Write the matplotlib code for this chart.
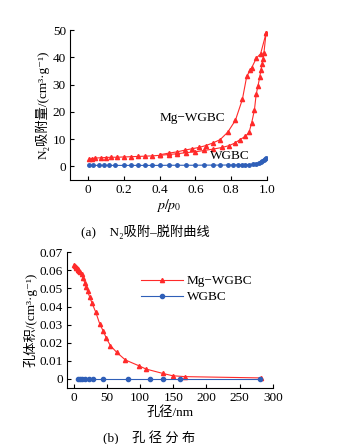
import matplotlib.pyplot as plt
import numpy as np

plt.rcParams['font.family'] = ['Liberation Serif', 'Noto Sans CJK SC', 'DejaVu Serif']
plt.rcParams['mathtext.fontset'] = 'stix'

# (a) N2 adsorption-desorption
mg_ads_p = [0.005, 0.02, 0.04, 0.07, 0.10, 0.13, 0.16, 0.20, 0.24, 0.28, 0.32, 0.36,
            0.40, 0.45, 0.50, 0.55, 0.60, 0.65, 0.70, 0.75, 0.79, 0.82, 0.85, 0.88,
            0.90, 0.915, 0.93, 0.94, 0.95, 0.96, 0.967, 0.973, 0.978, 0.983, 0.995]
mg_ads_v = [2.5, 2.8, 3.0, 3.1, 3.2, 3.3, 3.3, 3.4, 3.5, 3.6, 3.7, 3.8,
            4.0, 4.3, 4.6, 5.0, 5.3, 5.8, 6.3, 6.9, 7.6, 8.5, 9.8, 11.0,
            12.4, 16.0, 20.6, 26.4, 29.5, 32.8, 35.5, 37.5, 39.5, 41.5, 48.8]
mg_des_p = [0.995, 0.965, 0.94, 0.915, 0.905, 0.887, 0.863, 0.824, 0.781, 0.739,
            0.70, 0.659, 0.62, 0.58, 0.54, 0.50, 0.45, 0.40]
mg_des_v = [48.8, 41.4, 39.6, 36.2, 35.2, 33.0, 24.6, 16.9, 12.5, 9.8,
            8.6, 7.6, 6.9, 6.4, 5.9, 5.3, 4.8, 4.2]
wg_p = [0.005, 0.03, 0.06, 0.09, 0.12, 0.15, 0.20, 0.24, 0.28, 0.32, 0.36, 0.40,
        0.45, 0.50, 0.55, 0.60, 0.65, 0.70, 0.74, 0.78, 0.81, 0.84, 0.86, 0.88,
        0.90, 0.92, 0.94, 0.955, 0.965, 0.975, 0.983, 0.99, 0.995]
wg_v = [0.3, 0.3, 0.3, 0.3, 0.3, 0.3, 0.3, 0.3, 0.3, 0.3, 0.3, 0.3,
        0.35, 0.35, 0.35, 0.35, 0.4, 0.4, 0.4, 0.45, 0.45, 0.5, 0.5, 0.55,
        0.6, 0.7, 0.9, 1.1, 1.4, 1.8, 2.2, 2.7, 3.2]

# (b) pore size distribution
mg_d = [1, 2, 3, 4, 5, 6, 7, 8, 10, 12, 14, 17, 19, 21, 24, 28, 33.5, 39.5, 44.5,
        49.5, 55.5, 65, 78, 99, 109, 134, 149, 168, 282]
mg_pv = [0.063, 0.0625, 0.062, 0.0615, 0.061, 0.0605, 0.06, 0.0595, 0.0588, 0.058,
         0.0558, 0.053, 0.051, 0.0485, 0.0455, 0.0417, 0.0368, 0.0303, 0.0266,
         0.0224, 0.0184, 0.0147, 0.0105, 0.0072, 0.0055, 0.0031, 0.0018, 0.0013, 0.0006]
wg_d = [6.5, 9.5, 12.5, 16.5, 23, 29, 45, 82, 115, 134, 160.5, 280.5]
wg_pv = [0, 0, 0, 0, 0, 0, 0, 0, 0, 0, 0, 0]

red = '#ff2a2a'
blue = '#2f5fb8'
fs = 9

fig = plt.figure(figsize=(3.54, 4.44), dpi=100)

ax1 = fig.add_axes([0.198, 0.595, 0.556, 0.337])
ax1.plot(mg_ads_p, mg_ads_v, color=red, lw=0.8, marker='^', ms=3)
ax1.plot(mg_des_p, mg_des_v, color=red, lw=0.8, marker='^', ms=3)
ax1.plot(wg_p, wg_v, color=blue, lw=0.8, marker='o', ms=2.5)
ax1.set_xlim(-0.1, 1.0)
ax1.set_ylim(-5, 50)
ax1.set_xticks([0, 0.2, 0.4, 0.6, 0.8, 1.0])
ax1.set_xticklabels(['0', '0.2', '0.4', '0.6', '0.8', '1.0'])
ax1.set_yticks([0, 10, 20, 30, 40, 50])
ax1.text(0.4, 17.6, 'Mg−WGBC', fontsize=fs + 0.5, va='center')
ax1.text(0.68, 3.6, 'WGBC', fontsize=fs + 0.5, va='center')
ax1.set_xlabel('$p/p_0$', fontsize=fs + 1, labelpad=1)
ax1.set_ylabel('N₂吸附量/(cm³·g⁻¹)', fontsize=fs + 0.5, labelpad=2)

ax2 = fig.add_axes([0.189, 0.126, 0.582, 0.306])
ax2.plot(mg_d, mg_pv, color=red, lw=0.8, marker='^', ms=3, label='Mg−WGBC')
ax2.plot(wg_d, wg_pv, color=blue, lw=0.8, marker='o', ms=3, label='WGBC')
ax2.set_xlim(-10, 300)
ax2.set_ylim(-0.005, 0.07)
ax2.set_xticks([0, 50, 100, 150, 200, 250, 300])
ax2.set_yticks([0, 0.01, 0.02, 0.03, 0.04, 0.05, 0.06, 0.07])
ax2.set_yticklabels(['0', '0.01', '0.02', '0.03', '0.04', '0.05', '0.06', '0.07'])
ax2.set_xlabel('孔径/nm', fontsize=fs + 0.5, labelpad=1)
ax2.set_ylabel('孔体积/(cm³·g⁻¹)', fontsize=fs + 0.5, labelpad=1)
ax2.legend(loc='upper left', bbox_to_anchor=(0.3, 0.92), frameon=False,
           fontsize=fs + 0.5, handlelength=3.2, handletextpad=0.3, labelspacing=0.3)

for ax in (ax1, ax2):
    ax.spines['top'].set_visible(False)
    ax.spines['right'].set_visible(False)
    ax.spines['left'].set_linewidth(0.8)
    ax.spines['bottom'].set_linewidth(0.8)
    ax.tick_params(direction='in', labelsize=fs + 0.5, length=3, width=0.8, pad=3)

fig.text(0.41, 1 - 232 / 444, '(a)    N₂吸附–脱附曲线', fontsize=fs + 0.5, ha='center', va='center')
fig.text(0.42, 1 - 438 / 444, '(b)    孔 径 分 布', fontsize=fs + 0.5, ha='center', va='center')

fig.savefig('out.png', dpi=100)
